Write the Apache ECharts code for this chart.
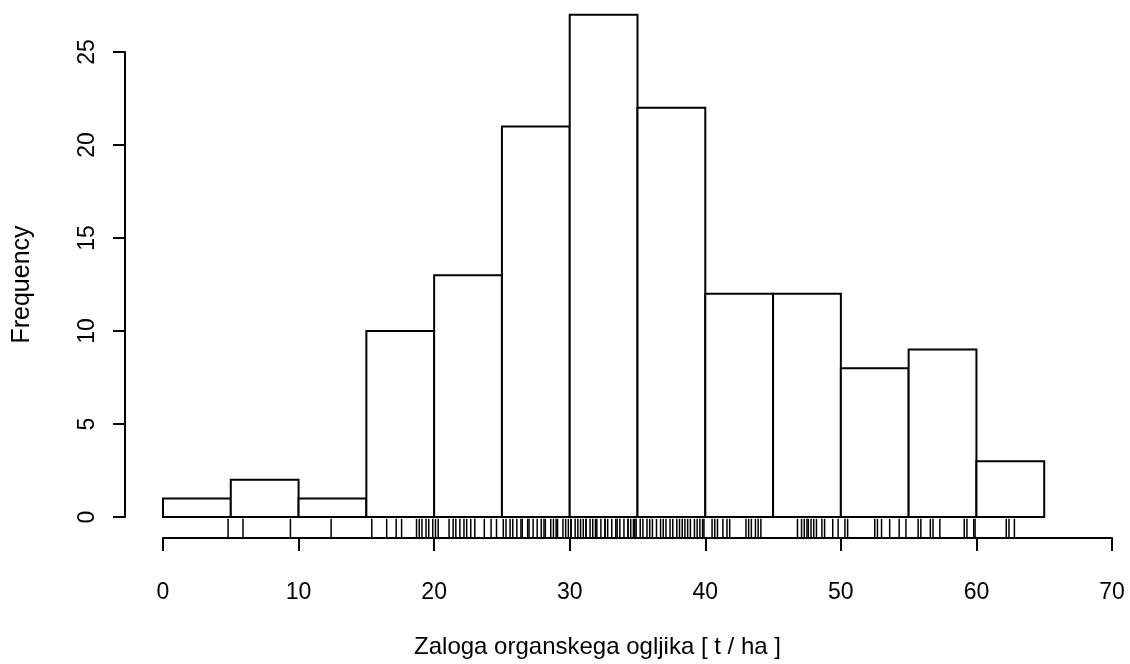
<!DOCTYPE html>
<html>
<head>
<meta charset="utf-8">
<script src="https://cdn.jsdelivr.net/npm/echarts@6/dist/echarts.min.js"></script>
<style>
html,body{margin:0;padding:0;background:#fff;}
#chart{width:1130px;height:664px;}
</style>
</head>
<body>
<div id="chart"></div>
<script>
// Histogram bin edges (lower edges) and counts
var binStarts = [0, 5, 10, 15, 20, 25, 30, 35, 40, 45, 50, 55, 60];
var binWidth = 5;
var counts = [1, 2, 1, 10, 13, 21, 27, 22, 12, 12, 8, 9, 3];

var rugValues = [
  4.8,
  5.9, 9.4,
  12.4,
  15.4, 16.5, 17.2, 17.6, 18.7, 18.9, 19.1, 19.4, 19.6, 19.9,
  20.1, 20.3, 21.1, 21.4, 21.6, 21.9, 22.2, 22.4, 22.7, 23.0, 23.7, 24.2, 24.6,
  25.1, 25.3, 25.6, 25.8, 26.1, 26.4, 26.5, 26.9, 27.0, 27.3, 27.6, 27.9, 28.1, 28.2, 28.6, 28.8, 29.0, 29.1, 29.5, 29.7, 29.9,
  30.1, 30.1, 30.4, 30.6, 30.8, 31.0, 31.2, 31.2, 31.5, 31.7, 31.9, 32.0, 32.3, 32.6, 32.6, 32.8, 33.1, 33.4, 33.5, 33.7, 34.0, 34.3, 34.3, 34.5, 34.7, 34.8, 34.9,
  35.2, 35.4, 35.7, 35.9, 36.1, 36.4, 36.7, 36.9, 37.1, 37.4, 37.6, 37.9, 38.1, 38.3, 38.5, 38.7, 38.9, 39.2, 39.4, 39.6, 39.8, 39.9,
  40.5, 40.7, 40.9, 41.3, 41.6, 41.8, 43.0, 43.2, 43.4, 43.7, 43.9, 44.1,
  46.8, 47.1, 47.3, 47.5, 47.6, 47.8, 48.0, 48.2, 48.6, 48.8, 49.4, 49.8,
  50.3, 50.5, 52.5, 52.7, 53.0, 53.6, 54.3, 54.8,
  55.7, 55.9, 56.6, 56.8, 57.3, 59.1, 59.3, 59.8, 59.9,
  62.2, 62.4, 62.8
];

// Axis tick labels
var xTicks = [0, 10, 20, 30, 40, 50, 60, 70];
var yTicks = [0, 5, 10, 15, 20, 25];

var xName = 'Zaloga organskega ogljika [ t / ha ]';
var yName = 'Frequency';

var barData = binStarts.map(function (s, i) { return [s, s + binWidth, counts[i]]; });
var rugData = rugValues.map(function (v) { return [v]; });

var FONT = '"Liberation Sans", Arial, sans-serif';
var FS = 23;

var chart = echarts.init(document.getElementById('chart'), null, {renderer: 'canvas'});
chart.setOption({
  animation: false,
  backgroundColor: '#ffffff',
  grid: {left: 163, right: 18, top: 52, bottom: 145, containLabel: false},
  xAxis: {
    type: 'value', min: 0, max: 70, interval: 10,
    offset: 21,
    axisLine: {show: true, onZero: false, lineStyle: {color: '#000', width: 2}},
    axisTick: {show: true, inside: false, length: 13, lineStyle: {color: '#000', width: 2}},
    axisLabel: {color: '#000', fontSize: FS, fontFamily: FONT, margin: 43,
      customValues: xTicks},
    splitLine: {show: false},
    name: xName, nameLocation: 'middle', nameGap: 97,
    nameTextStyle: {color: '#000', fontSize: 24, fontFamily: FONT, padding: [0, 80, 0, 0]}
  },
  yAxis: {
    type: 'value', min: 0, max: 25, interval: 5,
    offset: 38,
    axisLine: {show: true, onZero: false, lineStyle: {color: '#000', width: 2}},
    axisTick: {show: true, inside: false, length: 12, lineStyle: {color: '#000', width: 2}},
    axisLabel: {color: '#000', fontSize: FS, fontFamily: FONT, margin: 26, rotate: 90,
      customValues: yTicks},
    splitLine: {show: false},
    name: yName, nameLocation: 'middle', nameGap: 90, nameRotate: 90,
    nameTextStyle: {color: '#000', fontSize: 25, fontFamily: FONT}
  },
  series: [
    {
      type: 'custom',
      clip: false,
      data: barData,
      renderItem: function (params, api) {
        var p0 = api.coord([api.value(0), api.value(2)]);
        var p1 = api.coord([api.value(1), 0]);
        return {
          type: 'rect',
          shape: {x: p0[0], y: p0[1], width: p1[0] - p0[0], height: p1[1] - p0[1]},
          style: {fill: '#fff', stroke: '#000', lineWidth: 2}
        };
      }
    },
    {
      type: 'custom',
      clip: false,
      data: rugData,
      renderItem: function (params, api) {
        var a = api.coord([api.value(0), -0.1]);
        var b = api.coord([api.value(0), -1.13]);
        return {
          type: 'line',
          shape: {x1: a[0], y1: a[1], x2: b[0], y2: b[1]},
          style: {stroke: '#000', lineWidth: 1.5}
        };
      }
    }
  ]
});
</script>
</body>
</html>
